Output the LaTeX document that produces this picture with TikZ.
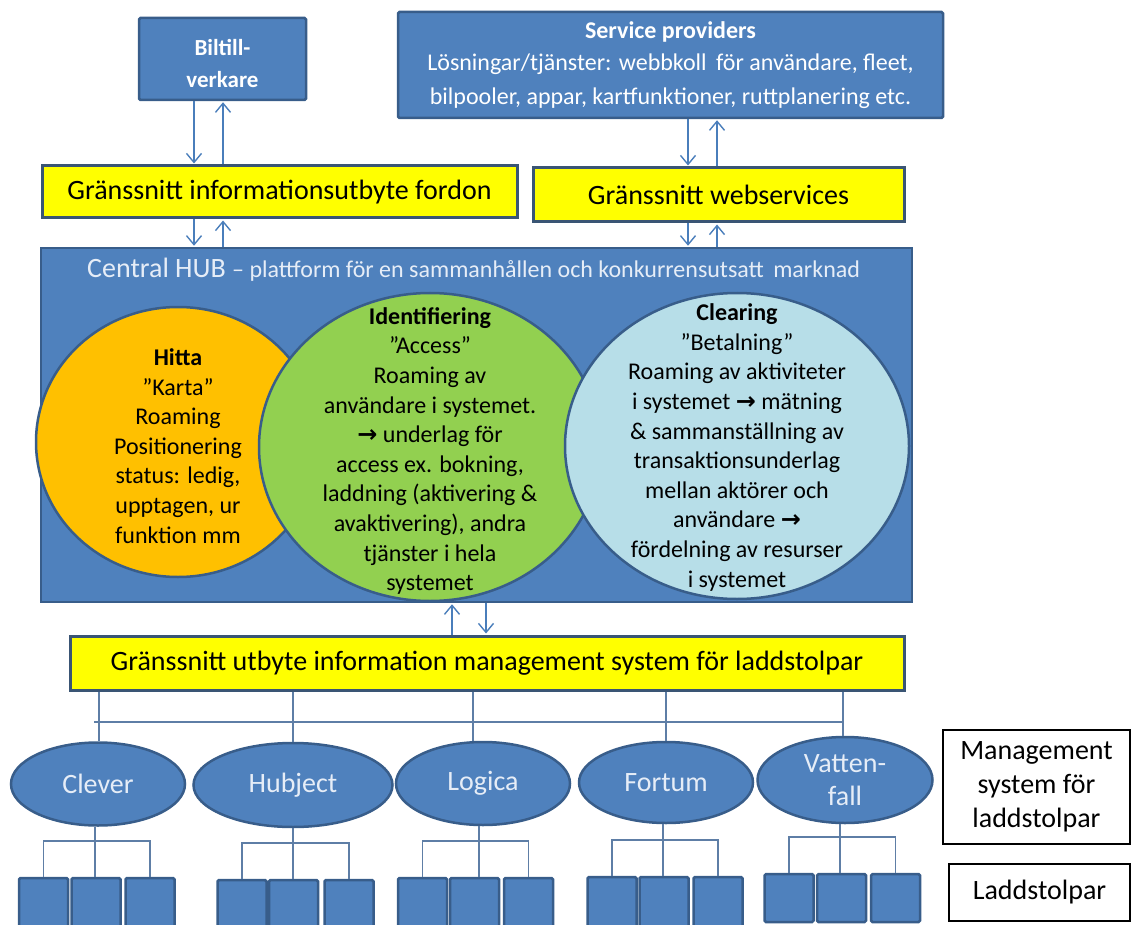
\documentclass[tikz,border=0pt]{standalone}
\usepackage{fontspec}
\setmainfont{Carlito}
\newfontfamily\arrowfont{DejaVu Sans}
\usetikzlibrary{arrows.meta,shapes.geometric}

\definecolor{hubblue}{HTML}{4F81BD}
\definecolor{hubedge}{HTML}{385D8A}
\definecolor{ifyellow}{HTML}{FFFF00}
\definecolor{ifedge}{HTML}{3A5574}
\definecolor{findorange}{HTML}{FFC000}
\definecolor{idgreen}{HTML}{92D050}
\definecolor{clearblue}{HTML}{B7DEE8}
\definecolor{linkblue}{HTML}{4A7EBB}
\definecolor{treeline}{HTML}{5E7EA6}
\definecolor{paletext}{HTML}{E6EDF7}

\newcommand{\setfs}[2]{\fontsize{#1}{#2}\selectfont}
\newcommand{\hubarrow}{{\arrowfont\bfseries →}}

\begin{document}
\begin{tikzpicture}[x=1pt,y=-1pt,
  bluebox/.style={draw=hubedge, line width=2.5pt, fill=hubblue, text=white,
    align=center, inner sep=0pt, rounded corners=1.5pt},
  ifbox/.style={draw=ifedge, line width=3pt, fill=ifyellow, inner sep=0pt,
    font=\setfs{28}{34}},
  venn/.style={ellipse, draw=hubedge, line width=2.5pt, inner sep=0pt},
  venntext/.style={align=center, font=\setfs{24}{29.6}, text=black},
  provider/.style={ellipse, draw=hubedge, line width=2.5pt, fill=hubblue,
    text=paletext, inner sep=0pt, align=center, font=\setfs{28}{33}},
  post/.style={draw=hubedge, line width=2.5pt, fill=hubblue, inner sep=0pt,
    minimum width=49pt, minimum height=48pt, rounded corners=1.5pt},
  legendbox/.style={draw=black, line width=1.5pt, fill=white, align=center,
    inner sep=0pt, font=\setfs{28}{34}},
  flow/.style={draw=linkblue, line width=1.4pt, shorten >=1pt,
    -{Straight Barb[length=9pt,width=15pt]}},
  tree/.style={draw=treeline, line width=1.5pt}]

\useasboundingbox (0,0) rectangle (1132,925);
\clip (0,0) rectangle (1132,925);

% top row: vehicle makers and service providers
\node[bluebox, minimum width=167pt, minimum height=82pt] (bil) at (222.5,59) {};
\node[text=white, align=center, inner sep=0pt, font=\bfseries\setfs{23}{32}]
  (biltext) at (222.5,64) {Biltill-\\verkare};
\node[bluebox, minimum width=545pt, minimum height=106pt,
  font=\setfs{24}{32}] (sp) at (670.5,65)
  {\textbf{Service providers}\\
   Lösningar/tjänster: webbkoll\, för användare, fleet,\\[2pt]
   bilpooler, appar, kartfunktioner, ruttplanering etc.};

% interface bars
\node[ifbox, minimum width=475pt, minimum height=52pt] (g1) at (279.5,192)
  {Gränssnitt informationsutbyte fordon};
\node[ifbox, minimum width=371pt, minimum height=54pt] (g2) at (718.5,195)
  {Gränssnitt webservices};

% central hub
\node[bluebox, minimum width=871pt, minimum height=354pt, rounded corners=0pt] (hub) at (476.5,425) {};
\node[anchor=west, text=paletext, inner sep=0pt] (hubtitle) at (87,270)
  {{\setfs{28}{30}Central HUB\ }{\setfs{24}{30}– plattform för en sammanhållen och konkurrensutsatt\, marknad}};

\node[venn, fill=findorange, minimum width=284pt, minimum height=270pt] (hitta) at (178,442) {};
\node[venn, fill=idgreen, minimum width=342pt, minimum height=308pt] (ident) at (430,447) {};
\node[venn, fill=clearblue, minimum width=344pt, minimum height=306pt] (clear) at (737,446) {};

\node[venntext] (hittatext) at (178,446)
  {\textbf{Hitta}\\ ”Karta”\\ Roaming\\ Positionering\\ status: ledig,\\ upptagen, ur\\ funktion mm};
\node[venntext] (identtext) at (430,451)
  {\textbf{Identifiering}\\ ”Access”\\ Roaming av\\ användare i systemet.\\
   \hubarrow{} underlag för\\ access ex. bokning,\\ laddning (aktivering \&\\
   avaktivering), andra\\ tjänster i hela\\ systemet};
\node[venntext] (cleartext) at (737,447.5)
  {\textbf{Clearing}\\ ”Betalning”\\ Roaming av aktiviteter\\ i systemet \hubarrow{} mätning\\
   \& sammanställning av\\ transaktionsunderlag\\ mellan aktörer och\\
   användare \hubarrow\\ fördelning av resurser\\ i systemet};

% interface to the charging management systems
\node[ifbox, minimum width=834pt, minimum height=54pt] (g3) at (487,663)
  {Gränssnitt utbyte information management system för laddstolpar};

% arrows between layers
\coordinate (xa) at (194,0);
\coordinate (xb) at (223,0);
\coordinate (xc) at (688,0);
\coordinate (xd) at (717,0);
\coordinate (xe) at (452,0);
\coordinate (xf) at (486,0);
\draw[flow] (bil.south -| xa) -- (g1.north -| xa);
\draw[flow] (g1.north -| xb) -- (bil.south -| xb);
\draw[flow] (g1.south -| xa) -- (hub.north -| xa);
\draw[flow] (hub.north -| xb) -- (g1.south -| xb);
\draw[flow] (sp.south -| xc) -- (g2.north -| xc);
\draw[flow] (g2.north -| xd) -- (sp.south -| xd);
\draw[flow] (g2.south -| xc) -- (hub.north -| xc);
\draw[flow] (hub.north -| xd) -- (g2.south -| xd);
\draw[flow] (g3.north -| xe) -- (hub.south -| xe);
\draw[flow] (hub.south -| xf) -- (g3.north -| xf);

% management systems
\node[provider, minimum width=174pt, minimum height=83pt] (clever) at (98,784) {Clever};
\node[provider, minimum width=199pt, minimum height=84pt] (hubject) at (293,785) {Hubject};
\node[provider, minimum width=174pt, minimum height=83pt] (logica) at (483,783.5) {Logica};
\node[provider, minimum width=174pt, minimum height=81pt] (fortum) at (666,782.5) {Fortum};
\node[provider, minimum width=175pt, minimum height=86pt] (vatten) at (845,780) {Vatten-\\fall};

% bus from the interface down to each system
\coordinate (busL) at (94,722);
\coordinate (busR) at (843,722);
\coordinate (d1) at (99,0);
\coordinate (d2) at (293,0);
\coordinate (d3) at (473,0);
\coordinate (d4) at (666,0);
\coordinate (d5) at (843,0);
\draw[tree] (busL) -- (busR);
\draw[tree] (g3.south -| d1) -- (clever.north -| d1);
\draw[tree] (g3.south -| d2) -- (hubject.north -| d2);
\draw[tree] (g3.south -| d3) -- (logica.north -| d3);
\draw[tree] (g3.south -| d4) -- (fortum.north -| d4);
\draw[tree] (g3.south -| d5) -- (vatten.north -| d5);

% charging posts, three per system (the lower rows run past the edge)
\foreach \grp/\top/\xa/\xb/\xc/\ht in {cl/878/43.5/96/150/62, hu/880/242/293.5/349/62,
    lo/878/422.5/474.5/528.5/62, fo/877/612/664/718/62, va/874/789/841.5/895.5/48} {
  \node[post, minimum height=\ht pt] (\grp1) at (\xa,\top+\ht/2) {};
  \node[post, minimum height=\ht pt] (\grp2) at (\xb,\top+\ht/2) {};
  \node[post, minimum height=\ht pt] (\grp3) at (\xc,\top+\ht/2) {};
  \draw[tree] (\grp1.north) -- ++(0,-36) -| (\grp3.north);
}
\coordinate (m1) at (95,0);
\coordinate (m3) at (479,0);
\coordinate (m4) at (663,0);
\coordinate (m5) at (840,0);
\draw[tree] (clever.south -| m1) -- (cl2.north -| m1);
\draw[tree] (hubject.south) -- (hubject.south |- hu2.north);
\draw[tree] (logica.south -| m3) -- (lo2.north -| m3);
\draw[tree] (fortum.south -| m4) -- (fo2.north -| m4);
\draw[tree] (vatten.south -| m5) -- (va2.north -| m5);

% legend
\node[legendbox, minimum width=187pt, minimum height=114pt] (legmgmt) at (1036.5,787)
  {Management\\ system för\\ laddstolpar};
\node[legendbox, minimum width=181pt, minimum height=57pt] (legpost) at (1039.5,892.5)
  {Laddstolpar};
\end{tikzpicture}
\end{document}
